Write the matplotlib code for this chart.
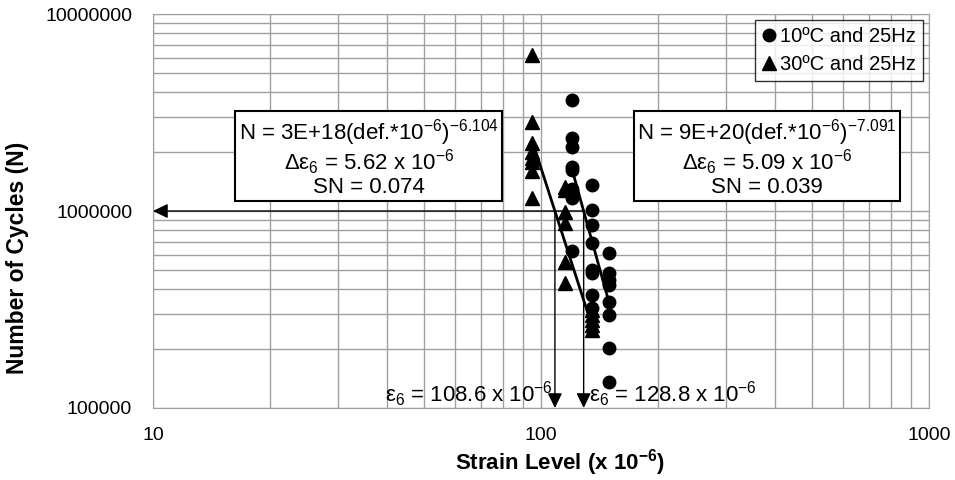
import matplotlib
matplotlib.use("Agg")
import matplotlib.pyplot as plt
from matplotlib.ticker import FuncFormatter, LogLocator, NullFormatter
import numpy as np

plt.rcParams['font.family'] = ['Liberation Sans', 'DejaVu Sans']
plt.rcParams['mathtext.fontset'] = 'custom'
plt.rcParams['mathtext.rm'] = 'Liberation Sans'
plt.rcParams['mathtext.it'] = 'Liberation Sans:italic'
plt.rcParams['mathtext.bf'] = 'Liberation Sans:bold'

# 10 C and 25 Hz (circles)
strain_10c = [120]*8 + [135]*8 + [150]*8
cycles_10c = [3.66e6, 2.34e6, 2.12e6, 1.68e6, 1.61e6, 1.30e6, 1.16e6, 6.3e5,
              1.35e6, 1.01e6, 8.5e5, 6.85e5, 5.0e5, 4.83e5, 3.75e5, 3.2e5,
              6.1e5, 4.83e5, 4.47e5, 4.2e5, 3.47e5, 2.97e5, 2.01e5, 1.36e5]

# 30 C and 25 Hz (triangles)
strain_30c = [95]*8 + [115]*6 + [135]*5
cycles_30c = [6.2e6, 2.84e6, 2.21e6, 2.0e6, 1.85e6, 1.78e6, 1.60e6, 1.16e6,
              1.33e6, 1.28e6, 9.9e5, 8.65e5, 5.53e5, 4.3e5,
              3.14e5, 2.97e5, 2.8e5, 2.63e5, 2.49e5]

# fatigue fits N = a * strain^b
fit_10c_a, fit_10c_b = 9.14e20, -7.091
fit_30c_a, fit_30c_b = 2.67e18, -6.104
fit_10c_range = [120, 150]
fit_30c_range = [95, 135]

eps6_10c = 128.8
eps6_30c = 108.6
n_target = 1e6

fig = plt.figure(figsize=(9.55, 4.8), dpi=100)
ax = fig.add_axes([0.1602, 0.15, 0.8126, 0.8208])

ax.set_xscale('log')
ax.set_yscale('log')
ax.set_xlim(10, 1000)
ax.set_ylim(1e5, 1e7)

gridc = '#a0a0a0'
ax.xaxis.set_minor_locator(LogLocator(base=10, subs=np.arange(2, 10)))
ax.yaxis.set_minor_locator(LogLocator(base=10, subs=np.arange(2, 10)))
ax.xaxis.set_minor_formatter(NullFormatter())
ax.yaxis.set_minor_formatter(NullFormatter())
ax.xaxis.set_major_formatter(FuncFormatter(lambda v, p: f"{v:.0f}"))
ax.yaxis.set_major_formatter(FuncFormatter(lambda v, p: f"{v:.0f}"))
ax.grid(True, which='both', color=gridc, lw=1)
ax.set_axisbelow(True)
ax.tick_params(which='both', length=0)
ax.tick_params(axis='y', labelsize=14, pad=15)
ax.tick_params(axis='x', labelsize=14, pad=14)
for s in ax.spines.values():
    s.set_color(gridc)

ax.plot(strain_10c, cycles_10c, 'o', color='black', ms=9, label='10ºC and 25Hz', zorder=3)
ax.plot(strain_30c, cycles_30c, '^', color='black', ms=10, label='30ºC and 25Hz', zorder=3)

xs = np.linspace(fit_10c_range[0], fit_10c_range[1], 20)
ax.plot(xs, fit_10c_a * xs**fit_10c_b, color='black', lw=2, zorder=4)
xs = np.linspace(fit_30c_range[0], fit_30c_range[1], 20)
ax.plot(xs, fit_30c_a * xs**fit_30c_b, color='black', lw=2, zorder=4)

# arrows from the 1e6 cycles level
arr = dict(arrowstyle='-|>,head_length=0.45,head_width=0.22', color='black', lw=1,
           shrinkA=0, shrinkB=0, mutation_scale=20)
ax.annotate('', xy=(10, n_target), xytext=(eps6_10c, n_target), arrowprops=arr, zorder=5)
ax.annotate('', xy=(eps6_30c, 1e5), xytext=(eps6_30c, n_target), arrowprops=arr, zorder=5)
ax.annotate('', xy=(eps6_10c, 1e5), xytext=(eps6_10c, n_target), arrowprops=arr, zorder=5)

ax.text(eps6_30c * 0.99, 1.18e5, r'ε$_6$ = 108.6 x 10$^{-6}$', fontsize=16, ha='right', va='center')
ax.text(eps6_10c * 1.035, 1.18e5, r'ε$_6$ = 128.8 x 10$^{-6}$', fontsize=16, ha='left', va='center')

box = dict(boxstyle='square,pad=0.15', fc='white', ec='black', lw=1.5)
ax.text(0.278, 0.635, 'N = 3E+18(def.*10$^{-6}$)$^{-6.104}$\nΔε$_6$ = 5.62 x 10$^{-6}$\nSN = 0.074',
        transform=ax.transAxes, fontsize=16, ha='center', va='center', multialignment='center',
        linespacing=0.98, bbox=box, zorder=6)
ax.text(0.791, 0.635, 'N = 9E+20(def.*10$^{-6}$)$^{-7.091}$\nΔε$_6$ = 5.09 x 10$^{-6}$\nSN = 0.039',
        transform=ax.transAxes, fontsize=16, ha='center', va='center', multialignment='center',
        linespacing=0.98, bbox=box, zorder=6)

leg = ax.legend(loc='upper right', fontsize=14.5, frameon=True, fancybox=False, edgecolor='black',
                handlelength=0.7, handletextpad=0.2, borderpad=0.35, labelspacing=0.45,
                borderaxespad=0.3)
leg.get_frame().set_linewidth(1)
leg.set_zorder(7)

ax.set_xlabel('Strain Level (x 10$^{\\mathbf{-6}}$)', fontsize=16, fontweight='bold')
ax.set_ylabel('Number of Cycles (N)', fontsize=16.5, fontweight='bold')
ax.xaxis.set_label_coords(0.525, -0.1)
ax.yaxis.set_label_coords(-0.160, 0.38)

fig.savefig('out.png', dpi=100)
